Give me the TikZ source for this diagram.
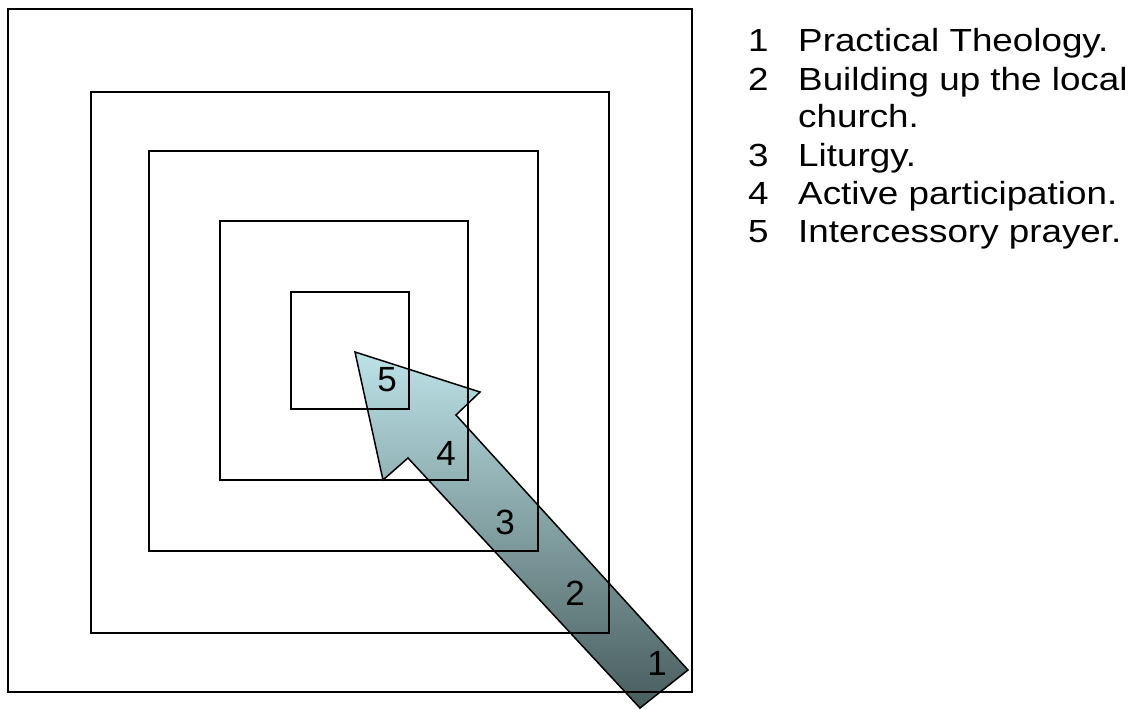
\documentclass[tikz,border=0pt]{standalone}
\usepackage{fontspec}
\setmainfont{Liberation Sans}
\definecolor{arrowtop}{RGB}{188,226,231}
\definecolor{arrowbottom}{RGB}{72,92,92}

\begin{document}
\begin{tikzpicture}[x=1pt,y=-1pt,
  frame/.style={draw=black, line width=2pt},
  num/.style={font=\fontsize{35}{35}\selectfont, inner sep=0pt},
  legend/.style={anchor=base west, font=\fontsize{32}{38}\selectfont, inner sep=0pt, xscale=1.15}]

\useasboundingbox (0,0) rectangle (1133,709);

% Arrow
\draw[line width=1.5pt, top color=arrowtop, bottom color=arrowbottom]
  (355,352) -- (480,392) -- (456,415) -- (688,670) -- (640,708) -- (408,458) -- (383,480) -- cycle;

% Squares
\draw[frame] (8,9) rectangle (692,692);
\draw[frame] (91,92) rectangle (609,633);
\draw[frame] (149,151) rectangle (538,551);
\draw[frame] (220,221) rectangle (468,480);
\draw[frame] (291,292) rectangle (409,409);

% Numbers on the arrow
\node[num] (n5) at (387,380) {5};
\node[num] (n4) at (446,453) {4};
\node[num] (n3) at (505,522) {3};
\node[num] (n2) at (575,593) {2};
\node[num] (n1) at (657,663) {1};

% Legend
\node[legend] (k1) at (748,52) {1};
\node[legend] (t1) at (798,52) {Practical Theology.};
\node[legend] (k2) at (748,90) {2};
\node[legend] (t2) at (798,90) {Building up the local};
\node[legend] (t2b) at (798,128) {church.};
\node[legend] (k3) at (748,166) {3};
\node[legend] (t3) at (798,166) {Liturgy.};
\node[legend] (k4) at (748,204) {4};
\node[legend] (t4) at (798,204) {Active participation.};
\node[legend] (k5) at (748,242) {5};
\node[legend] (t5) at (798,242) {Intercessory prayer.};

\end{tikzpicture}
\end{document}
